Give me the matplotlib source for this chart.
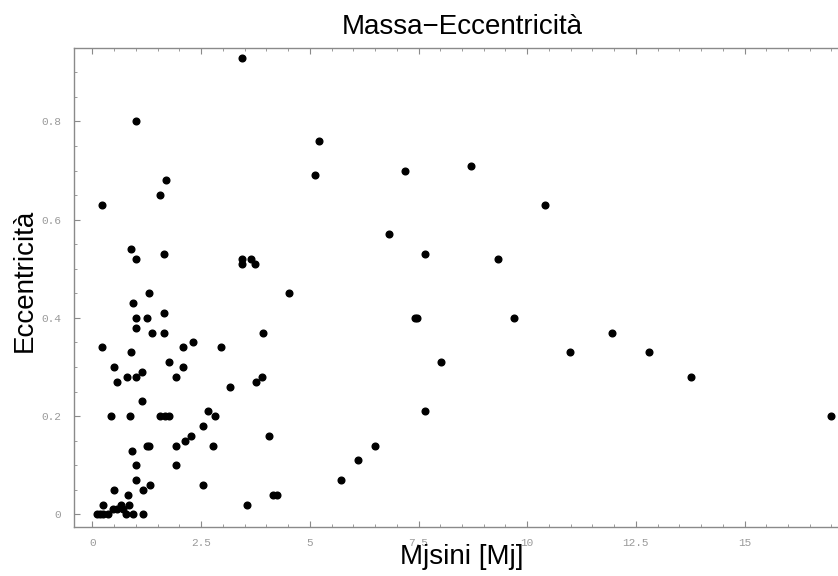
import matplotlib
matplotlib.use('Agg')
import matplotlib.pyplot as plt
from matplotlib.ticker import MultipleLocator

# Mjsini [Mj] e eccentricità dei pianeti
massa = [0.10, 0.17, 0.25, 0.35, 0.78, 0.94, 1.16,
         0.25, 0.48, 0.56, 0.65, 0.70, 0.85,
         0.82, 0.49, 1.16, 1.33, 0.99, 0.99, 0.90, 1.25, 1.31,
         1.91, 1.91, 2.13, 2.27, 2.55, 2.65, 2.78, 2.55,
         0.42, 0.87, 1.55, 1.66, 1.77, 1.13, 2.82,
         0.21, 0.49, 0.56, 0.79, 0.89, 0.94, 1.01, 1.01, 1.00, 1.15,
         1.25, 1.30, 1.38, 1.64, 1.64, 1.75, 1.92, 2.09, 2.09, 2.32,
         2.96, 3.17, 3.76, 3.90, 3.92, 4.51, 4.07, 3.56, 4.16, 4.25,
         5.72, 6.10, 6.49, 7.42, 7.47,
         3.45, 1.01, 0.21, 1.56, 1.69, 0.89, 1.01, 1.64, 3.45, 3.45,
         3.65, 3.74, 5.13, 5.22, 6.81, 7.19,
         7.65, 8.71, 9.33, 10.41,
         9.69, 8.02, 7.65, 10.99, 11.94, 12.80, 13.77, 16.99]

ecc = [0.0, 0.0, 0.0, 0.0, 0.0, 0.0, 0.0,
       0.02, 0.01, 0.01, 0.02, 0.01, 0.02,
       0.04, 0.05, 0.05, 0.06, 0.07, 0.10, 0.13, 0.14, 0.14,
       0.14, 0.10, 0.15, 0.16, 0.18, 0.21, 0.14, 0.06,
       0.20, 0.20, 0.20, 0.20, 0.20, 0.23, 0.20,
       0.34, 0.30, 0.27, 0.28, 0.33, 0.43, 0.40, 0.38, 0.28, 0.29,
       0.40, 0.45, 0.37, 0.41, 0.37, 0.31, 0.28, 0.34, 0.30, 0.35,
       0.34, 0.26, 0.27, 0.28, 0.37, 0.45, 0.16, 0.02, 0.04, 0.04,
       0.07, 0.11, 0.14, 0.40, 0.40,
       0.93, 0.80, 0.63, 0.65, 0.68, 0.54, 0.52, 0.53, 0.52, 0.51,
       0.52, 0.51, 0.69, 0.76, 0.57, 0.70,
       0.53, 0.71, 0.52, 0.63,
       0.40, 0.31, 0.21, 0.33, 0.37, 0.33, 0.28, 0.20]

xticks = [0, 2.5, 5, 7.5, 10, 12.5, 15]
xtick_labels = ['0', '2.5', '5', '7.5', '10', '12.5', '15']
yticks = [0, 0.2, 0.4, 0.6, 0.8]
ytick_labels = ['0', '0.2', '0.4', '0.6', '0.8']

fig = plt.figure(figsize=(8.38, 5.76), dpi=100)
ax = fig.add_axes([0.0883, 0.0856, 0.9117, 0.8316])

ax.plot(massa, ecc, 'o', color='black', markersize=4.8, linestyle='none')

ax.set_xlim(-0.425, 17.15)
ax.set_ylim(-0.025, 0.95)

ax.set_xticks(xticks)
ax.set_xticklabels(xtick_labels)
ax.set_yticks(yticks)
ax.set_yticklabels(ytick_labels)
ax.xaxis.set_minor_locator(MultipleLocator(0.5))
ax.yaxis.set_minor_locator(MultipleLocator(0.05))

grigio = '#8a8a8a'
for lato in ['left', 'bottom', 'top']:
    ax.spines[lato].set_color(grigio)
    ax.spines[lato].set_linewidth(1.0)
ax.spines['right'].set_visible(False)

ax.tick_params(which='both', direction='in', colors=grigio, top=True, right=False,
               labeltop=False)
ax.tick_params(which='major', length=4.5, width=0.8, pad=8)
ax.tick_params(which='minor', length=2.5, width=0.6)
for lab in ax.get_xticklabels() + ax.get_yticklabels():
    lab.set_family('Liberation Mono')
    lab.set_fontsize(8)
    lab.set_color('#9a9a9a')
ax.tick_params(axis='y', pad=9)

ax.set_title('Massa\u2212Eccentricità', fontsize=20, family='Liberation Sans',
             x=0.508, pad=10)
# l'etichetta x copre in parte "7.5", come nell'originale
ax.set_xlabel('Mjsini [Mj]', fontsize=20, family='Liberation Sans')
ax.xaxis.set_label_coords(0.507, -0.036)
ax.set_ylabel('Eccentricità', fontsize=20, family='Liberation Sans')
ax.yaxis.set_label_coords(-0.048, 0.515)

fig.savefig('out.png', dpi=100)
